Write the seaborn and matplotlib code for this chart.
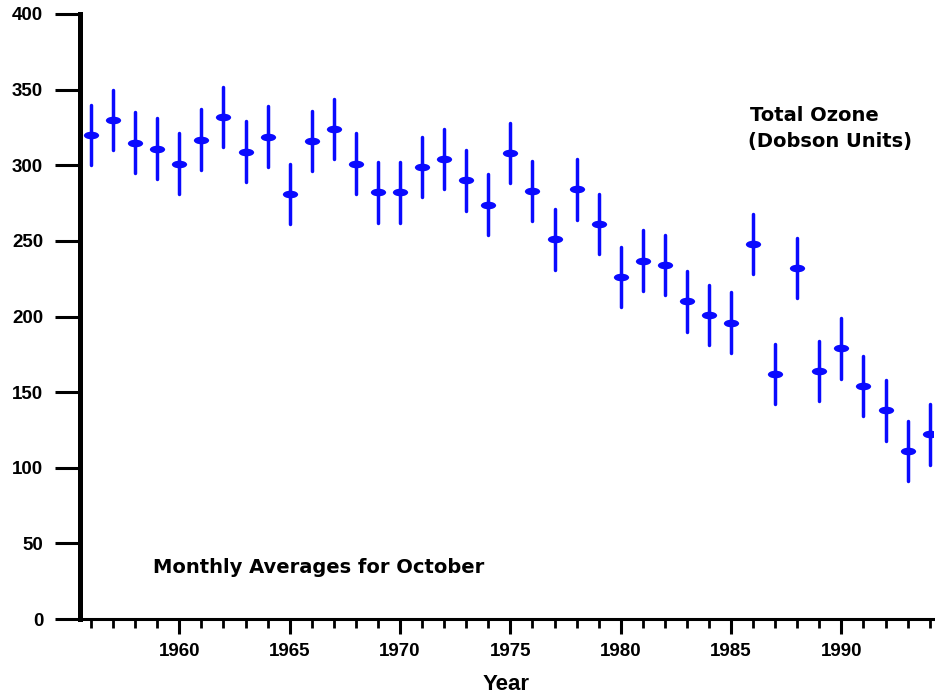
import numpy as np
import pandas as pd
import matplotlib
matplotlib.use("Agg")
import matplotlib.pyplot as plt
from matplotlib.path import Path
from matplotlib.ticker import MultipleLocator
import seaborn as sns

# ---- data ----
years = list(range(1956, 1995))
ozone = [320, 330, 315, 311, 301, 317, 332, 309, 319, 281,
         316, 324, 301, 282, 282, 299, 304, 290, 274, 308,
         283, 251, 284, 261, 226, 237, 234, 210, 201, 196,
         248, 162, 232, 164, 179, 154, 138, 111, 122]
err = [20, 20, 20, 20, 20, 20, 20, 20, 20, 20,
       20, 20, 20, 20, 20, 20, 20, 20, 20, 20,
       20, 20, 20, 20, 20, 20, 20, 20, 20, 20,
       20, 20, 20, 20, 20, 20, 20, 20, 20]
y_ticks = [0, 50, 100, 150, 200, 250, 300, 350, 400]
x_major = [1960, 1965, 1970, 1975, 1980, 1985, 1990]
title_lines = ["Total Ozone", "(Dobson Units)"]
note_text = "Monthly Averages for October"
x_label = "Year"

# long table: low / centre / high for each year
rows = []
for yr, v, e in zip(years, ozone, err):
    rows += [(yr, v - e), (yr, v), (yr, v + e)]
df = pd.DataFrame(rows, columns=["year", "value"])

sns.set_style("white")
plt.rcParams["font.family"] = ["Liberation Sans", "DejaVu Sans"]
plt.rcParams["text.color"] = "black"
plt.rcParams["axes.labelcolor"] = "black"
plt.rcParams["xtick.color"] = "black"
plt.rcParams["ytick.color"] = "black"

W, H = 935, 696
fig = plt.figure(figsize=(W / 100, H / 100), dpi=100)
ax = fig.add_axes([80 / W, 1 - 619 / H, 853 / W, 605 / H])

# horizontal ellipse marker for the centre values
circ = Path.unit_circle()
ell = Path(circ.vertices * np.array([2.0, 1.0]), circ.codes)

blue = "#0a0aff"
sns.lineplot(data=df, x="year", y="value", estimator="median",
             errorbar=lambda v: (v.min(), v.max()), err_style="bars",
             color=blue, linestyle="none", marker=ell, markersize=11,
             markeredgewidth=0, err_kws={"linewidth": 2.5}, ax=ax)

ax.set_xlim(1955.5, 1994.15)
ax.set_ylim(0, 400)
ax.set_yticks(y_ticks)
ax.set_xticks(x_major)
ax.xaxis.set_minor_locator(MultipleLocator(1))
ax.set_ylabel("")
ax.set_xlabel(x_label, fontsize=16, fontweight="bold", labelpad=10, color="black")

for s in ["top", "right"]:
    ax.spines[s].set_visible(False)
ax.spines["left"].set_linewidth(3.6)
ax.spines["bottom"].set_linewidth(2.2)
ax.spines["left"].set_color("black")
ax.spines["bottom"].set_color("black")

ax.tick_params(axis="y", which="major", direction="out", length=18, width=2.2,
               pad=8.5, labelsize=13.5, colors="black", left=True)
ax.tick_params(axis="x", which="major", direction="out", length=11, width=2.2,
               pad=6, labelsize=13.5, colors="black", bottom=True)
ax.tick_params(axis="x", which="minor", direction="out", length=6.5, width=2.0,
               colors="black", bottom=True)
for lab in ax.get_xticklabels() + ax.get_yticklabels():
    lab.set_fontweight("bold")

fig.text(750 / W, 1 - 121 / H, title_lines[0], fontsize=14, fontweight="bold",
         family="DejaVu Sans", va="baseline", ha="left", color="black")
fig.text(748 / W, 1 - 147 / H, title_lines[1], fontsize=14, fontweight="bold",
         family="DejaVu Sans", va="baseline", ha="left", color="black")
fig.text(153 / W, 1 - 573 / H, note_text, fontsize=14, fontweight="bold",
         family="DejaVu Sans", va="baseline", ha="left", color="black")

fig.savefig("out.png", dpi=100, facecolor="white")
